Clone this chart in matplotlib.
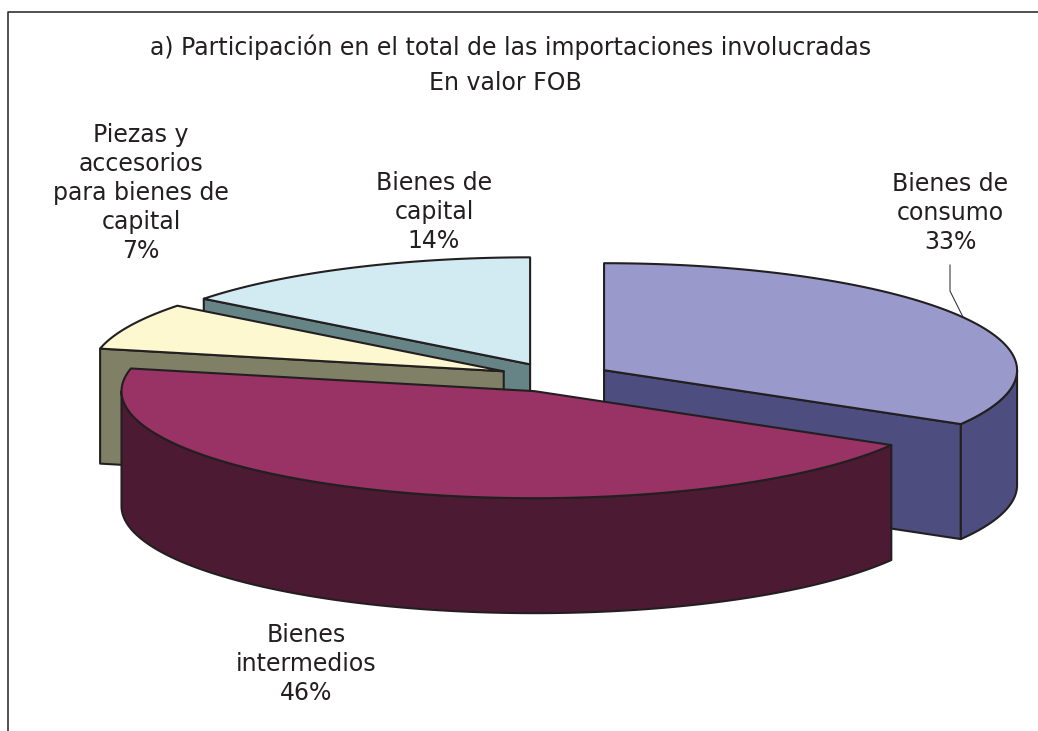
#!/usr/bin/env python
"""Exploded pseudo-3D pie: share of imports by type of good (FOB value)."""
import numpy as np
import matplotlib
matplotlib.use("Agg")
import matplotlib.pyplot as plt
from matplotlib.patches import Polygon

plt.rcParams["font.family"] = ["DejaVu Sans"]
plt.rcParams["font.stretch"] = "normal"

W, H = 1038, 731

categories = ["Bienes de\nconsumo", "Bienes\nintermedios",
              "Piezas y\naccesorios\npara bienes de\ncapital", "Bienes de\ncapital"]
pct_labels = ["33%", "46%", "7%", "14%"]
shares = [33.4, 45.0, 7.1, 14.5]
top_colors = ["#9999CC", "#993366", "#FDF8CF", "#D2EBF2"]
wall_colors = ["#4D4D80", "#4D1A33", "#808066", "#668486"]
label_pos = [(950, 213), (306, 664), (141, 193), (434, 212)]
title_lines = ["a) Participación en el total de las importaciones involucradas", "En valor FOB"]

# pie geometry in pixels
CX, CY = 555, 377.5
RX, RY = 413, 107
DEPTH = 115
EXPLODE = 0.137
EDGE = "#231F20"
LW = 1.5
FS = 17


def rim(cx, cy, a0, a1, dy=0):
    # angles clockwise from the top, degrees
    a = np.radians(np.linspace(a0, a1, 120))
    return np.column_stack([cx + RX * np.sin(a), cy - RY * np.cos(a) + dy])


def face(ax, pts, color, z):
    ax.add_patch(Polygon(pts, closed=True, facecolor=color, edgecolor=EDGE,
                         linewidth=LW, joinstyle="round", zorder=z))


fig = plt.figure(figsize=(W / 100, H / 100), dpi=100)
ax = fig.add_axes([0, 0, 1, 1])
ax.set_xlim(0, W)
ax.set_ylim(H, 0)
ax.axis("off")

# chart frame, cut by the image on the right and bottom
ax.plot([7.5, 7.5, W], [H, 11.5, 11.5], color=EDGE, lw=1.1, zorder=1)

ends = np.cumsum(shares) / np.sum(shares) * 360
starts = np.concatenate([[0], ends[:-1]])

# back to front: capital, piezas, consumo, intermedios
z = 2
for i in [3, 2, 0, 1]:
    a0, a1 = starts[i], ends[i]
    mid = np.radians((a0 + a1) / 2)
    cx = CX + EXPLODE * RX * np.sin(mid)
    cy = CY - EXPLODE * RY * np.cos(mid)
    apex = np.array([[cx, cy]])
    down = np.array([0, DEPTH])
    # cut faces, only those turned to the viewer
    for a, sign in ((a0, -1), (a1, 1)):
        if sign * np.sin(np.radians(a)) > 1e-6:
            p = rim(cx, cy, a, a)[:1]
            face(ax, np.vstack([apex, p, p + down, apex + down]), wall_colors[i], z)
            z += 1
    # outer wall, only the part that faces the viewer
    w0, w1 = max(a0, 90), min(a1, 270)
    if w0 < w1:
        up = rim(cx, cy, w0, w1)
        face(ax, np.vstack([up, (up + down)[::-1]]), wall_colors[i], z)
        z += 1
    face(ax, np.vstack([apex, rim(cx, cy, a0, a1)]), top_colors[i], z)
    z += 1

for line, y, x in zip(title_lines, [47, 83], [511, 505]):
    ax.text(x, y, line, ha="center", va="center", fontsize=FS, fontstretch="normal",
            color=EDGE, zorder=z)

for cat, pct, (x, y) in zip(categories, pct_labels, label_pos):
    ax.text(x, y, f"{cat}\n{pct}", ha="center", va="center", fontsize=FS, fontstretch="normal",
            color=EDGE, linespacing=1.27, zorder=z)

# leader line of the consumo label
ax.plot([950, 950, 963], [265, 291, 317], color=EDGE, lw=0.7, zorder=z)

fig.savefig("out.png", dpi=100)
